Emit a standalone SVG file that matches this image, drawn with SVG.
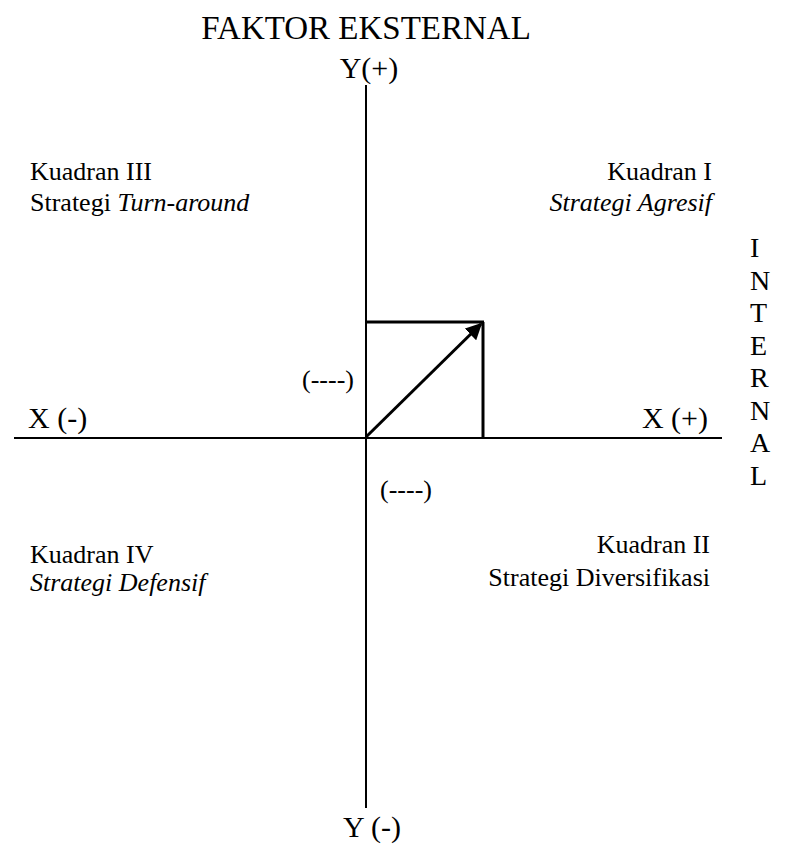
<svg xmlns="http://www.w3.org/2000/svg" width="790" height="844" viewBox="0 0 790 844">
<style>
text{font-family:"Liberation Serif","Times New Roman",serif;fill:#000}
.t33{font-size:33px}
.t30{font-size:30px}
.t26{font-size:26px}
.t28{font-size:28px}
.it{font-style:italic}
.ax{stroke:#000;stroke-width:2;fill:none}
.th{stroke:#000;stroke-width:3;fill:none}
</style>
<defs>
<marker id="ah" viewBox="0 0 10 10" refX="9" refY="5" markerWidth="5.5" markerHeight="5.5" markerUnits="strokeWidth" orient="auto">
<path d="M0,0 L10,5 L0,10 z" fill="#000"/>
</marker>
</defs>
<g id="connectors">
<line class="ax" x1="366" y1="85" x2="366" y2="808"/>
<line class="ax" x1="14" y1="438" x2="722" y2="438"/>
<line class="th" x1="365" y1="322" x2="484" y2="322"/>
<line class="th" x1="483" y1="322" x2="483" y2="438"/>
<line class="th" x1="366" y1="437" x2="481" y2="324" marker-end="url(#ah)"/>
</g>
<g id="title"><text class="t33" x="366" y="39" text-anchor="middle">FAKTOR EKSTERNAL</text></g>
<g id="y-plus"><text class="t30" x="369" y="78" text-anchor="middle">Y(+)</text></g>
<g id="y-minus"><text class="t30" x="372" y="837" text-anchor="middle">Y (-)</text></g>
<g id="x-minus"><text class="t30" x="28" y="428">X (-)</text></g>
<g id="x-plus"><text class="t30" x="708" y="428" text-anchor="end">X (+)</text></g>
<g id="kuadran3"><text class="t26" x="30" y="180">Kuadran III</text><text class="t26" x="30" y="211">Strategi <tspan class="it">Turn-around</tspan></text></g>
<g id="kuadran1"><text class="t26" x="712" y="180" text-anchor="end">Kuadran I</text><text class="t26 it" x="712" y="211" text-anchor="end">Strategi Agresif</text></g>
<g id="kuadran4"><text class="t26" x="30" y="563">Kuadran IV</text><text class="t26 it" x="30" y="591">Strategi Defensif</text></g>
<g id="kuadran2"><text class="t26" x="710" y="553" text-anchor="end">Kuadran II</text><text class="t26" x="710" y="586" text-anchor="end">Strategi Diversifikasi</text></g>
<g id="dash-left"><text class="t26" x="302" y="388">(----)</text></g>
<g id="dash-bottom"><text class="t26" x="380" y="498">(----)</text></g>
<g id="internal">
<text class="t28" x="750" y="257">I</text>
<text class="t28" x="750" y="289.5">N</text>
<text class="t28" x="750" y="322">T</text>
<text class="t28" x="750" y="354.5">E</text>
<text class="t28" x="750" y="387">R</text>
<text class="t28" x="750" y="419.5">N</text>
<text class="t28" x="750" y="452">A</text>
<text class="t28" x="750" y="484.5">L</text>
</g>
</svg>
